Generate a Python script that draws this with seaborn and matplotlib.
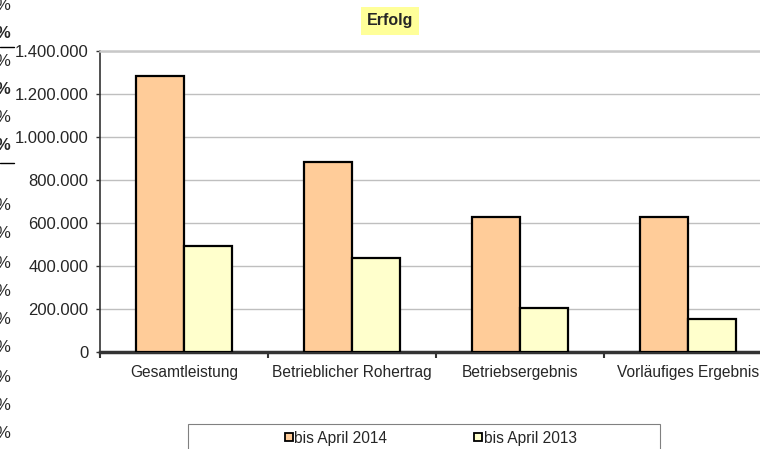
import matplotlib
matplotlib.use("Agg")
import matplotlib.pyplot as plt
import matplotlib.ticker as mticker
from matplotlib.lines import Line2D
from matplotlib.patches import Rectangle
import pandas as pd
import seaborn as sns

# Data
categories = ["Gesamtleistung", "Betrieblicher Rohertrag", "Betriebsergebnis", "Vorläufiges Ergebnis"]
series_names = ["bis April 2014", "bis April 2013"]
values_2014 = [1282000, 885000, 629000, 629000]
values_2013 = [494000, 439000, 207000, 155000]
series_colors = ["#FFCC99", "#FFFFCC"]
y_ticks = [0, 200000, 400000, 600000, 800000, 1000000, 1200000, 1400000]

df = pd.DataFrame({
    "Kategorie": categories * 2,
    "Reihe": [series_names[0]] * 4 + [series_names[1]] * 4,
    "Wert": values_2014 + values_2013,
})

W, H = 760, 449
sns.set_style("white")
plt.rcParams["font.family"] = ["Liberation Sans", "DejaVu Sans"]
fig = plt.figure(figsize=(W / 100, H / 100), dpi=100)

# plot area runs a little past the right edge, as in the reference
ax = fig.add_axes([100 / W, (H - 352.3) / H, 672 / W, 301.6 / H])

sns.barplot(
    data=df, x="Kategorie", y="Wert", hue="Reihe",
    palette=dict(zip(series_names, series_colors)),
    edgecolor="black", linewidth=1.6, width=0.571, gap=0,
    saturation=1, legend=False, ax=ax, zorder=3,
)

ax.set_ylim(0, 1400000)
ax.set_xlim(-0.5, 3.5)
ax.set_yticks(y_ticks)
ax.yaxis.set_major_formatter(
    mticker.FuncFormatter(lambda v, p: f"{v:,.0f}".replace(",", "."))
)
ax.grid(axis="y", color="#BFBFBF", linewidth=1.0, zorder=0)
ax.set_axisbelow(True)

# category boundaries get the tick marks, labels sit in the middle
ax.set_xticks([-0.5, 0.5, 1.5, 2.5, 3.5])
ax.set_xticklabels([])
ax.set_xticks(range(len(categories)), minor=True)
ax.set_xticklabels(categories, minor=True, fontsize=11.2)
ax.tick_params(axis="x", which="major", length=4, width=1.5, color="#333333", direction="out", bottom=True)
ax.tick_params(axis="x", which="minor", length=0, pad=9)
ax.tick_params(axis="y", length=3, width=1, color="#333333", direction="out", left=True, pad=5.5, labelsize=12)

ax.set_xlabel("")
ax.set_ylabel("")
ax.spines["left"].set_color("#333333")
ax.spines["left"].set_linewidth(1.2)
ax.spines["bottom"].set_color("#333333")
ax.spines["bottom"].set_linewidth(2.5)
ax.spines["top"].set_color("#C8C8C8")
ax.spines["top"].set_linewidth(1.8)
ax.spines["right"].set_visible(False)

# title in a yellow box
fig.text(390 / W, 1 - 21 / H, "Erfolg", ha="center", va="center", fontsize=11.5,
         fontweight="bold",
         bbox=dict(boxstyle="square,pad=0.38", facecolor="#FFFF99", edgecolor="none"))

# legend box, cut by the bottom edge
fig.add_artist(Rectangle((188 / W, -0.05), 472 / W, (H - 424) / H + 0.05,
                         transform=fig.transFigure, facecolor="white",
                         edgecolor="#808080", linewidth=0.8))
handles = [Line2D([], [], linestyle="none", marker="s", markersize=6,
                  markerfacecolor=c, markeredgecolor="black", markeredgewidth=1.3)
           for c in series_colors]
fig.legend(handles, series_names, loc="center", bbox_to_anchor=(431 / W, 1 - 438 / H),
           ncol=2, frameon=False, fontsize=11.2, handlelength=0.5,
           handletextpad=0.1, columnspacing=5.6, borderpad=0)

# leftover cell content of the sheet at the left edge
pct_rows = [(5, False), (33, True), (62, False), (90, True), (117, False), (145, True),
            (205, False), (234, False), (263, False), (291, False), (320, False),
            (348, False), (377, False), (405, False), (434, False)]
for y, bold in pct_rows:
    fig.text(10 / W, 1 - y / H, "%", ha="right", va="center", fontsize=12,
             fontweight="bold" if bold else "normal")
for y in [46.5, 163]:
    fig.add_artist(Line2D([0, 14 / W], [1 - y / H, 1 - y / H], transform=fig.transFigure,
                          color="black", linewidth=1))

fig.savefig("out.png", dpi=100)
